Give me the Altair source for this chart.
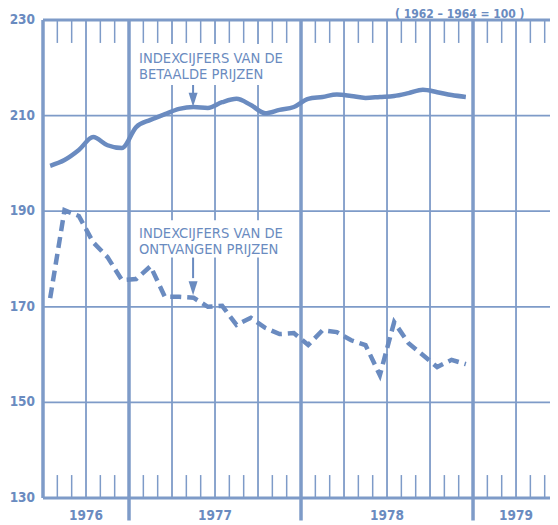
import altair as alt
import pandas as pd

# month index 0 = July 1976 (points plotted mid-month)
months = list(range(30))  # Jul 1976 .. Dec 1978

betaalde = [199.5, 200.7, 202.8, 205.5, 203.8, 203.2,
            207.6, 209.1, 210.3, 211.4, 211.8, 211.6,
            212.8, 213.5, 212.2, 210.5, 211.2, 211.8,
            213.5, 213.9, 214.4, 214.1, 213.7, 213.9,
            214.1, 214.7, 215.4, 214.9, 214.3, 213.9]

ontvangen = [171.8, 190.2, 189.0, 183.5, 180.4, 175.6,
             175.8, 178.5, 172.1, 172.1, 171.9, 170.0,
             170.2, 166.2, 167.7, 165.6, 164.3, 164.5,
             162.0, 165.1, 164.7, 163.0, 162.0, 155.7,
             166.8, 162.4, 159.9, 157.4, 158.9, 158.0]

y_ticks = [130, 150, 170, 190, 210, 230]
h_grid = [150, 170, 190, 210]
quarter_lines = [3, 9, 12, 15, 21, 24, 27, 33, 36]
year_lines = [6, 18, 30]
month_ticks = [k for k in range(1, 36) if k % 3 != 0]
years = ["1976", "1977", "1978", "1979"]
year_centers = [3, 12, 24, 33]

label1 = "INDEXCIJFERS VAN DE\nBETAALDE PRIJZEN"
label2 = "INDEXCIJFERS VAN DE\nONTVANGEN PRIJZEN"
title_text = "( 1962 \u2013 1964 = 100 )"

LINE = "#6a8bc0"
GRID = "#7e9bc8"
FONT = "DejaVu Sans Condensed"
XMAX = 35.37

xs = alt.Scale(domain=[0, XMAX], nice=False, zero=False)
ys = alt.Scale(domain=[130, 230], nice=False, zero=False)


def X(f):
    return alt.X(f, type="quantitative", scale=xs, axis=None)


def Y(f):
    return alt.Y(f, type="quantitative", scale=ys, axis=None)


series = pd.DataFrame({
    "m": [m + 0.5 for m in months],
    "betaalde": betaalde,
    "ontvangen": ontvangen,
})

hgrid = alt.Chart(pd.DataFrame({"v": h_grid, "a": 0.0, "b": XMAX})).mark_rule(
    color=GRID, strokeWidth=1.8).encode(y=Y("v"), x=X("a"), x2="b:Q")

borders = alt.Chart(pd.DataFrame({"v": [130, 230], "a": 0.0, "b": XMAX})).mark_rule(
    color=GRID, strokeWidth=3).encode(y=Y("v"), x=X("a"), x2="b:Q")

qlines = alt.Chart(pd.DataFrame({"q": quarter_lines, "lo": 130.0, "hi": 230.0})).mark_rule(
    color=GRID, strokeWidth=1.8).encode(x=X("q"), y=Y("lo"), y2="hi:Q")

ylines = alt.Chart(pd.DataFrame({"q": year_lines, "lo": 125.3, "hi": 230.0})).mark_rule(
    color=GRID, strokeWidth=3.5).encode(x=X("q"), y=Y("lo"), y2="hi:Q")

left_axis = alt.Chart(pd.DataFrame({"q": [0.0], "lo": 130.0, "hi": 230.0})).mark_rule(
    color=GRID, strokeWidth=3.5).encode(x=X("q"), y=Y("lo"), y2="hi:Q")

top_ticks = alt.Chart(pd.DataFrame({"q": month_ticks, "lo": 225.2, "hi": 230.0})).mark_rule(
    color=GRID, strokeWidth=1.5).encode(x=X("q"), y=Y("lo"), y2="hi:Q")
bot_ticks = alt.Chart(pd.DataFrame({"q": month_ticks, "lo": 130.0, "hi": 134.8})).mark_rule(
    color=GRID, strokeWidth=1.5).encode(x=X("q"), y=Y("lo"), y2="hi:Q")

boxes = alt.Chart(pd.DataFrame({
    "x1": [6.3, 6.3], "x2": [17.3, 17.3],
    "y1": [216.4, 180.3], "y2": [225.0, 188.1],
})).mark_rect(color="white").encode(x=X("x1"), x2="x2:Q", y=Y("y1"), y2="y2:Q")

solid = alt.Chart(series).mark_line(color=LINE, strokeWidth=4.5, interpolate="monotone").encode(
    x=X("m"), y=Y("betaalde"))
dashed = alt.Chart(series).mark_line(color=LINE, strokeWidth=4.5, strokeDash=[11, 6]).encode(
    x=X("m"), y=Y("ontvangen"))

ann = alt.Chart(pd.DataFrame({
    "x": [6.7, 6.7], "y": [221.0, 184.4], "t": [label1, label2],
})).mark_text(align="left", baseline="alphabetic", lineBreak="\n", lineHeight=16,
              font=FONT, fontSize=14.6, color=LINE).encode(
    x=X("x"), y=Y("y"), text="t:N")

shafts = alt.Chart(pd.DataFrame({
    "x": [10.47, 10.47], "y1": [216.4, 180.3], "y2": [213.5, 176.0],
})).mark_rule(color=LINE, strokeWidth=2).encode(x=X("x"), y=Y("y1"), y2="y2:Q")

heads = alt.Chart(pd.DataFrame({
    "x": [10.47, 10.47], "y": [213.3, 173.9],
})).mark_point(shape="M-0.64,-1L0.64,-1L0,1Z", size=196, filled=True, color=LINE,
               opacity=1).encode(x=X("x"), y=Y("y"))

year_text = alt.Chart(pd.DataFrame({"c": year_centers, "yr": years, "y": 126.2})).mark_text(
    font=FONT, fontWeight="bold", fontSize=13.5, color=LINE, baseline="middle"
).encode(x=X("c"), y=Y("y"), text="yr:N")

ylabels = alt.Chart(pd.DataFrame({"v": y_ticks, "s": [str(v) for v in y_ticks]})).mark_text(
    font=FONT, fontWeight="bold", fontSize=13.5, color=LINE, baseline="middle", align="right"
).encode(x=alt.value(-8), y=Y("v"), text="s:N")

title = alt.Chart(pd.DataFrame({"t": [title_text]})).mark_text(
    font=FONT, fontWeight="bold", fontSize=12, color=LINE,
    align="left", baseline="alphabetic"
).encode(x=alt.value(352), y=alt.value(-2.5), text="t:N")

chart = alt.layer(
    hgrid, qlines, top_ticks, bot_ticks, boxes, borders, ylines, left_axis,
    solid, dashed, ann, shafts, heads, year_text, ylabels, title
).properties(
    width=507, height=478,
    autosize=alt.AutoSizeParams(type="none"),
    padding={"left": 35, "top": 12, "right": 0, "bottom": 27},
    background="white",
).configure_view(strokeWidth=0)

chart.save("out.html", embed_options={"renderer": "svg", "actions": False})
